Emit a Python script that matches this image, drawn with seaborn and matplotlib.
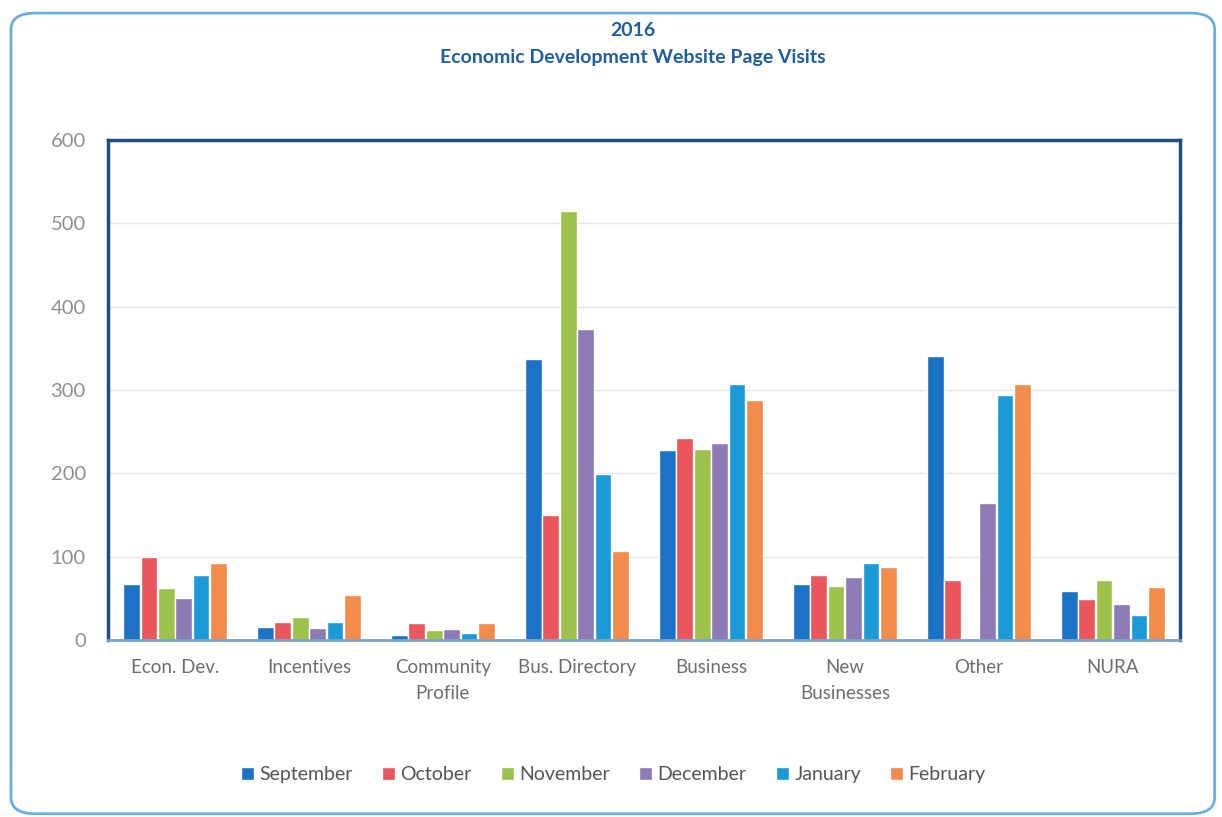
import matplotlib
matplotlib.use("Agg")
import matplotlib.pyplot as plt
from matplotlib.patches import FancyBboxPatch, Patch
import seaborn as sns
import pandas as pd

# data
categories = ["Econ. Dev.", "Incentives", "Community\nProfile", "Bus. Directory",
              "Business", "New\nBusinesses", "Other", "NURA"]
months = ["September", "October", "November", "December", "January", "February"]

september = [67, 16, 6, 337, 228, 67, 341, 59]
october = [100, 22, 20, 150, 242, 78, 72, 49]
november = [62, 28, 12, 515, 229, 65, 0, 72]
december = [51, 15, 13, 373, 237, 76, 164, 43]
january = [78, 22, 8, 199, 307, 93, 294, 30]
february = [92, 54, 20, 107, 288, 88, 307, 64]

colors = ["#1b72c6", "#e9565b", "#9dc24b", "#8c7bb6", "#1a9bd7", "#f38b4c"]

series = [september, october, november, december, january, february]
rows = []
for m, vals in zip(months, series):
    for c, v in zip(categories, vals):
        rows.append({"category": c, "month": m, "visits": v})
df = pd.DataFrame(rows)

sns.set_style("white")
plt.rcParams["font.family"] = ["Lato", "DejaVu Sans"]

fig = plt.figure(figsize=(12.22, 8.17), dpi=100)
ax = fig.add_axes([0.0884, 0.2166, 0.877, 0.612])

sns.barplot(data=df, x="category", y="visits", hue="month", order=categories,
            hue_order=months, palette=colors, width=0.78, gap=0.04,
            saturation=1, ax=ax, legend=False)

ax.set_ylim(0, 600)
ax.set_xlim(-0.5, 7.5)
ax.set_yticks(range(0, 601, 100))
ax.yaxis.grid(True, color="#e6e6e6", linewidth=1)
ax.set_axisbelow(True)
ax.set_xlabel("")
ax.set_ylabel("")
ax.tick_params(axis="y", labelsize=14.5, colors="#8f8f8f", length=0, pad=16)
ax.tick_params(axis="x", labelsize=13.5, colors="#6e6e6e", length=0, pad=14)
for lbl in ax.get_xticklabels():
    lbl.set_linespacing(1.6)

for side in ["left", "top", "right"]:
    ax.spines[side].set_color("#1f4e82")
    ax.spines[side].set_linewidth(2.5)
ax.spines["bottom"].set_color("#7ba4c4")
ax.spines["bottom"].set_linewidth(2)

# title
fig.text(0.518, 0.963, "2016", ha="center", va="center", fontsize=14,
         fontweight="bold", color="#1f5d9c")
fig.text(0.518, 0.930, "Economic Development Website Page Visits", ha="center",
         va="center", fontsize=14, fontweight="bold", color="#1f5d9c")

# legend
handles = [Patch(facecolor=c, label=m) for c, m in zip(colors, months)]
fig.legend(handles=handles, loc="center", bbox_to_anchor=(0.502, 0.052), ncol=6,
           frameon=False, fontsize=14, handlelength=0.65, handleheight=0.65,
           handletextpad=0.3, columnspacing=1.5, labelcolor="#555555")

# rounded border around the chart
border = FancyBboxPatch((0.009, 0.004), 0.985, 0.98, transform=fig.transFigure,
                        boxstyle="round,pad=0,rounding_size=0.02",
                        facecolor="none", edgecolor="#6aaee0", linewidth=2)
fig.patches.append(border)

fig.savefig("out.png", dpi=100)
